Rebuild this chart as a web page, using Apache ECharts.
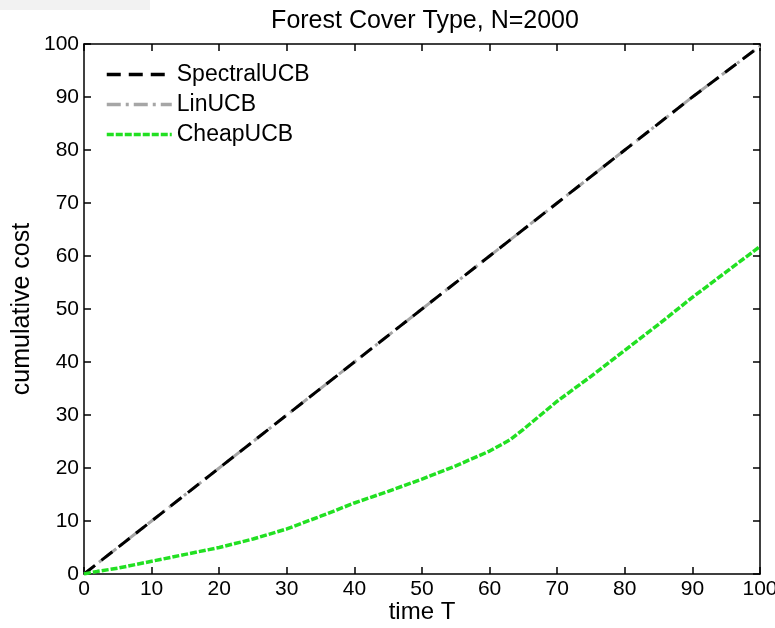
<!DOCTYPE html>
<html>
<head>
<meta charset="utf-8">
<script src="https://cdn.jsdelivr.net/npm/echarts@6/dist/echarts.min.js"></script>
<style>html,body{margin:0;padding:0;background:#fff}#c{width:775px;height:628px}</style>
</head>
<body>
<div id="c"></div>
<script>
const titleText = 'Forest Cover Type, N=2000';
const xName = 'time T';
const yName = 'cumulative cost';
const xTicks = [0,10,20,30,40,50,60,70,80,90,100];
const yTicks = [0,10,20,30,40,50,60,70,80,90,100];

const spectralT = [0,10,20,30,40,50,60,70,80,90,100];
const spectralV = [0,10,20,30,40,50,60,70,80,90,99.6];
const linT = [0,10,20,30,40,50,60,70,80,90,100];
const linV = [0,10,20,30,40,50,60,70,80,90,99.6];
const cheapT = [0,2,5,10,15,20,25,30,35,40,45,50,55,60,63,65,70,75,80,85,90,95,100];
const cheapV = [0,0.5,1.1,2.4,3.7,5.0,6.6,8.5,10.9,13.4,15.6,17.9,20.4,23.2,25.3,27.3,32.6,37.3,42.2,47.1,52.2,57.0,61.8];

const zip = (a,b) => a.map((t,i)=>[t,b[i]]);
const font = 'Liberation Sans, Arial, Helvetica, sans-serif';

const chart = echarts.init(document.getElementById('c'), null, {renderer:'canvas'});
const axisCommon = {
  min:xTicks[0], max:xTicks[xTicks.length-1], interval:xTicks[1]-xTicks[0],
  nameMoveOverlap:false,
  axisLine:{show:true, onZero:false, lineStyle:{color:'#000', width:1.5}},
  axisTick:{show:true, inside:true, length:7, lineStyle:{color:'#000', width:1.5}},
  splitLine:{show:false}
};
const yCommon = Object.assign({}, axisCommon, {min:yTicks[0], max:yTicks[yTicks.length-1], interval:yTicks[1]-yTicks[0]});
chart.setOption({
  animation:false,
  backgroundColor:'#fff',
  graphic:[{type:'rect', shape:{x:0,y:0,width:150,height:10}, style:{fill:'#f2f2f2'}, z:-1}],
  title:{text:titleText, left:420, textAlign:'center', top:4,
    textStyle:{fontFamily:font, fontSize:25, fontWeight:'normal', color:'#000'}},
  grid:{left:84, right:15, top:44, bottom:54, containLabel:false, outerBoundsMode:'none'},
  legend:{
    left:100, top:58, orient:'vertical', itemGap:7, itemWidth:65, itemHeight:14,
    data:['SpectralUCB','LinUCB','CheapUCB'],
    itemStyle:{opacity:0},
    lineStyle:{width:3.5},
    textStyle:{fontFamily:font, fontSize:23, color:'#000'}
  },
  xAxis:[
    Object.assign({type:'value', position:'bottom', name:xName, nameLocation:'middle', nameGap:26,
      nameTextStyle:{fontFamily:font, fontSize:24, color:'#000'},
      axisLabel:{fontFamily:font, fontSize:21, color:'#000', margin:5}}, axisCommon),
    Object.assign({type:'value', position:'top', axisLabel:{show:false}}, axisCommon)
  ],
  yAxis:[
    Object.assign({type:'value', position:'left', name:yName, nameLocation:'middle', nameGap:49,
      nameTextStyle:{fontFamily:font, fontSize:25, color:'#000'},
      axisLabel:{fontFamily:font, fontSize:21, color:'#000', margin:5}}, yCommon),
    Object.assign({type:'value', position:'right', axisLabel:{show:false}}, yCommon)
  ],
  series:[
    {name:'LinUCB', type:'line', data:zip(linT,linV), showSymbol:false, symbol:'none', z:2,
      lineStyle:{color:'#a6a6a6', width:3, type:[14,5,3,5]}, itemStyle:{color:'#a6a6a6'}},
    {name:'SpectralUCB', type:'line', data:zip(spectralT,spectralV), showSymbol:false, symbol:'none', z:3,
      lineStyle:{color:'#000', width:3, type:[14,8]}, itemStyle:{color:'#000'}},
    {name:'CheapUCB', type:'line', data:zip(cheapT,cheapV), showSymbol:false, symbol:'none', z:4,
      lineStyle:{color:'#22e022', width:3.5, type:[7,2]}, itemStyle:{color:'#22e022'}}
  ]
});
</script>
</body>
</html>
